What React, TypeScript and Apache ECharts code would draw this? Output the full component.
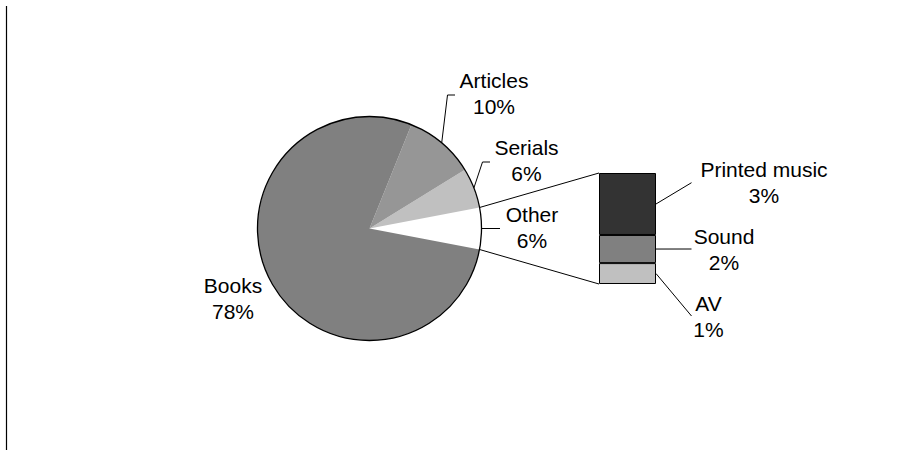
import React, { useEffect, useRef } from "react";
import * as echarts from "echarts";

// ---------- data ----------
const mainCategories = ["Books", "Articles", "Serials"];
const mainValues = [78.1, 10.1, 5.8];
const otherName = "Other";
const otherCategories = ["Printed music", "Sound", "AV"];
const otherValues = [3.35, 1.52, 1.13];

// ---------- layout ----------
const PIE_CX = 369.5;
const PIE_CY = 228.5;
const PIE_R = 112;
const BAR = { left: 599, top: 173, width: 57, height: 111 };
const FONT = "'Liberation Sans', Arial, sans-serif";

const pieLabelPos: Record<string, [number, number]> = {
  Books: [233, 298],
  Articles: [494, 93.5],
  Serials: [526.5, 160.5],
  Other: [532, 227.5],
};
// leader: elbow point and end point (null => no leader)
const pieLeader: Record<string, { elbow: [number, number] | null; end: [number, number] } | null> = {
  Books: null,
  Articles: { elbow: [447.5, 95], end: [455, 95] },
  Serials: { elbow: [482.5, 162], end: [490, 162] },
  Other: { elbow: null, end: [500, 228.5] },
};
const barLabelPos: Record<string, [number, number]> = {
  "Printed music": [764, 182.7],
  Sound: [724, 249],
  AV: [708.5, 316],
};
const barLeaderEndX = 691.5;

const otherTotal = otherValues.reduce((a, b) => a + b, 0);
// pie data, counter-clockwise from the start angle: Other, then the rest reversed
const pieNames = [otherName, ...mainCategories.slice().reverse()];
const pieVals = [otherTotal, ...mainValues.slice().reverse()];
const pieTotal = pieVals.reduce((a, b) => a + b, 0);
const startAngle = 360 - (otherTotal / pieTotal) * 180;

const pieColors: Record<string, string> = {
  Books: "#808080",
  Articles: "#969696",
  Serials: "#c0c0c0",
  Other: "#ffffff",
};
const barColors: Record<string, string> = {
  "Printed music": "#333333",
  Sound: "#808080",
  AV: "#c0c0c0",
};

function edgePoint(angleDeg: number): [number, number] {
  const a = (angleDeg * Math.PI) / 180;
  return [PIE_CX + PIE_R * Math.cos(a), PIE_CY - PIE_R * Math.sin(a)];
}

export default function App() {
  const ref = useRef<HTMLDivElement>(null);
  useEffect(() => {
    if (!ref.current) return;
    const chart = echarts.init(ref.current, undefined, { renderer: "svg" });

    // mid angles of pie slices
    const midAngles: Record<string, number> = {};
    let cum = 0;
    pieNames.forEach((n, i) => {
      const a0 = -(otherTotal / pieTotal) * 180 + (cum / pieTotal) * 360;
      midAngles[n] = a0 + (pieVals[i] / pieTotal) * 180;
      cum += pieVals[i];
    });

    const labelText = {
      fontFamily: FONT,
      fontSize: 21,
      lineHeight: 26,
      color: "#000",
    };

    // bar series: bottom first
    const barOrder = otherCategories.slice().reverse();
    const barSeries = barOrder.map((name) => {
      const idx = otherCategories.indexOf(name);
      return {
        type: "bar",
        name,
        stack: "other",
        barWidth: "100%",
        xAxisIndex: 0,
        yAxisIndex: 0,
        data: [otherValues[idx]],
        itemStyle: { color: barColors[name], borderColor: "#000", borderWidth: 1 },
        label: {
          show: true,
          position: "inside",
          ...labelText,
          formatter: (p: any) => `${p.seriesName}\n${Math.round(p.value)}%`,
        },
        labelLayout: () => ({
          x: barLabelPos[name][0],
          y: barLabelPos[name][1],
          align: "center",
          verticalAlign: "middle",
        }),
        silent: true,
      };
    });

    const option: any = {
      animation: false,
      backgroundColor: "#fff",
      grid: { left: BAR.left, top: BAR.top, width: BAR.width, height: BAR.height, containLabel: false },
      xAxis: { type: "category", data: [""], show: false, boundaryGap: true },
      yAxis: { type: "value", min: 0, max: otherTotal, show: false },
      series: [
        {
          type: "pie",
          center: [PIE_CX, PIE_CY],
          radius: PIE_R,
          startAngle,
          clockwise: false,
          avoidLabelOverlap: false,
          silent: true,
          itemStyle: { borderWidth: 0 },
          label: {
            show: true,
            position: "outside",
            ...labelText,
            formatter: (p: any) => `${p.name}\n${Math.round(p.percent)}%`,
          },
          labelLine: { show: false },
          labelLayout: (params: any) => {
            const n = pieNames[params.dataIndex];
            return {
              x: pieLabelPos[n][0],
              y: pieLabelPos[n][1],
              align: "center",
              verticalAlign: "middle",
            };
          },
          data: pieNames.map((n, i) => ({
            name: n,
            value: pieVals[i],
            itemStyle: { color: pieColors[n] },
          })),
        },
        {
          type: "pie",
          center: [PIE_CX, PIE_CY],
          radius: PIE_R,
          silent: true,
          label: { show: false },
          labelLine: { show: false },
          itemStyle: { color: "rgba(0,0,0,0)", borderColor: "#000", borderWidth: 1.3 },
          data: [{ name: "outline", value: 1 }],
        },
        ...barSeries,
      ],
    };
    chart.setOption(option);

    // leader & connector lines computed from pie geometry and the bar's value axis
    const lineStyle = { stroke: "#000", lineWidth: 1, fill: null };
    const graphics: any[] = [
      {
        type: "line",
        shape: { x1: 6.5, y1: 6, x2: 6.5, y2: 450 },
        style: { stroke: "#000", lineWidth: 1.2 },
        silent: true,
      },
    ];
    pieNames.forEach((n) => {
      const ld = pieLeader[n];
      if (!ld) return;
      const pts: number[][] = [edgePoint(midAngles[n])];
      if (ld.elbow) pts.push(ld.elbow);
      pts.push(ld.end);
      graphics.push({ type: "polyline", shape: { points: pts }, style: lineStyle, silent: true });
    });
    // connectors from the Other slice edges to the bar corners
    const half = (otherTotal / pieTotal) * 180;
    const yTop = chart.convertToPixel({ yAxisIndex: 0 }, otherTotal) as number;
    const yBottom = chart.convertToPixel({ yAxisIndex: 0 }, 0) as number;
    const pTop = edgePoint(half);
    const pBot = edgePoint(-half);
    graphics.push({
      type: "line",
      shape: { x1: pTop[0], y1: pTop[1], x2: BAR.left, y2: yTop },
      style: lineStyle,
      silent: true,
    });
    graphics.push({
      type: "line",
      shape: { x1: pBot[0], y1: pBot[1], x2: BAR.left, y2: yBottom },
      style: lineStyle,
      silent: true,
    });
    // bar leaders
    let acc = 0;
    barOrder.forEach((name) => {
      const v = otherValues[otherCategories.indexOf(name)];
      const yMid = chart.convertToPixel({ yAxisIndex: 0 }, acc + v / 2) as number;
      acc += v;
      graphics.push({
        type: "line",
        shape: { x1: BAR.left + BAR.width, y1: yMid, x2: barLeaderEndX, y2: barLabelPos[name][1] },
        style: lineStyle,
        silent: true,
      });
    });
    chart.setOption({ graphic: graphics });

    return () => chart.dispose();
  }, []);

  return (
    <div
      ref={ref}
      style={{ position: "fixed", left: 0, top: 0, width: 905, height: 451, background: "#fff" }}
    />
  );
}
